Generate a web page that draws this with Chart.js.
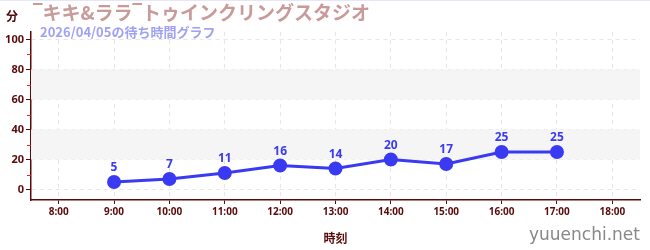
<!DOCTYPE html>
<html>
<head>
<meta charset="utf-8">
<script src="https://cdn.jsdelivr.net/npm/chart.js@4"></script>
<style>
    body { margin: 0; background: #fff; }
    #wrap { position: relative; width: 650px; height: 250px; font-family: "Noto Sans CJK JP", "Noto Sans", sans-serif; }
    #topline { position: absolute; left: 0; top: 0; width: 650px; height: 1px; background: #e6e6f8; }
    #title { position: absolute; left: 33px; top: 0px; font-size: 19px; line-height: 24px; font-weight: bold; color: #c99a9a; white-space: nowrap; font-family: "Noto Sans CJK JP", sans-serif; }
    #title .m { font-family: "Noto Sans", sans-serif; }
    #subtitle { position: absolute; left: 40px; top: 22px; font-size: 13px; font-weight: bold; color: #a0a0f5; white-space: nowrap; }
    #unit { position: absolute; left: 6px; top: 7px; font-size: 12px; font-weight: bold; color: #4a0a0a; }
    #site { position: absolute; right: 10px; bottom: 6px; font-size: 17px; color: #888; font-family: "DejaVu Sans", sans-serif; }
</style>
</head>
<body>
<div id="wrap">
    <canvas id="waitChart" width="650" height="250"></canvas>
    <div id="topline"></div>
    <div id="unit">分</div>
    <div id="title"><span class="m">¯</span>キキ&amp;ララ<span class="m">¯</span>トゥインクリングスタジオ</div>
    <div id="subtitle">2026/04/05の待ち時間グラフ</div>
    <div id="site">yuuenchi.net</div>
</div>
<script>
const hours = [9, 10, 11, 12, 13, 14, 15, 16, 17];
const waitMinutes = [5, 7, 11, 16, 14, 20, 17, 25, 25];
const hourTicks = [8, 9, 10, 11, 12, 13, 14, 15, 16, 17, 18];
const minuteTicks = [0, 20, 40, 60, 80, 100];
const minorTicks = [10, 30, 50, 70, 90];
const bands = [[20, 40], [60, 80]];

const axisColor = '#5a0a0a';
const lineColor = '#3a3af2';

// shaded bands + red minor ticks on y axis
const bandPlugin = {
    id: 'bands',
    beforeDatasetsDraw(chart) {
        const { ctx, chartArea, scales } = chart;
        ctx.save();
        ctx.fillStyle = '#f5f5f5';
        bands.forEach(([lo, hi]) => {
            const yTop = scales.y.getPixelForValue(hi);
            const yBot = scales.y.getPixelForValue(lo);
            ctx.fillRect(chartArea.left, yTop, chartArea.right - chartArea.left, yBot - yTop);
        });
        ctx.restore();
    },
    afterDraw(chart) {
        const { ctx, chartArea, scales } = chart;
        ctx.save();
        ctx.strokeStyle = '#dd2222';
        ctx.lineWidth = 1;
        minorTicks.forEach(v => {
            const y = Math.round(scales.y.getPixelForValue(v)) + 0.5;
            ctx.beginPath();
            ctx.moveTo(chartArea.left - 4, y);
            ctx.lineTo(chartArea.left, y);
            ctx.stroke();
        });
        ctx.restore();
    },
};

// value labels above points
const labelPlugin = {
    id: 'pointLabels',
    afterDatasetsDraw(chart) {
        const { ctx } = chart;
        const meta = chart.getDatasetMeta(0);
        ctx.save();
        ctx.fillStyle = lineColor;
        ctx.font = 'bold 12px "Noto Sans", sans-serif';
        ctx.textAlign = 'center';
        ctx.textBaseline = 'bottom';
        meta.data.forEach((pt, i) => {
            ctx.fillText(String(waitMinutes[i]), pt.x, pt.y - 8);
        });
        ctx.restore();
    },
};

const ctx = document.getElementById('waitChart').getContext('2d');
const chart = new Chart(ctx, {
    type: 'line',
    data: {
        datasets: [
            {
                data: hours.map((h, i) => ({ x: h, y: waitMinutes[i] })),
                borderColor: lineColor,
                backgroundColor: lineColor,
                borderWidth: 3,
                pointRadius: 5.5,
                pointHoverRadius: 5.5,
                tension: 0,
            },
        ],
    },
    options: {
        responsive: false,
        animation: false,
        events: [],
        layout: {
            padding: { top: 32, right: 10, left: 0, bottom: 0 },
        },
        scales: {
            x: {
                type: 'linear',
                min: 7.5,
                max: 18.5,
                afterBuildTicks: (axis) => { axis.ticks = hourTicks.map(v => ({ value: v })); },
                afterFit: (axis) => { axis.height = 50; },
                ticks: {
                    color: axisColor,
                    font: { size: 10, weight: 'bold', family: '"Noto Sans", sans-serif' },
                    padding: 2,
                    maxRotation: 0,
                    callback: (v) => v + ':00',
                },
                grid: {
                    color: '#e6e6e6',
                    tickColor: axisColor,
                    tickLength: 4,
                },
                border: { color: axisColor, width: 1.5, dash: [4, 4] },
                title: {
                    display: true,
                    text: '時刻',
                    color: axisColor,
                    font: { size: 12, weight: 'bold', family: '"Noto Sans CJK JP", sans-serif' },
                    padding: { top: 4 },
                },
            },
            y: {
                min: -7,
                max: 105,
                afterBuildTicks: (axis) => { axis.ticks = minuteTicks.map(v => ({ value: v })); },
                afterFit: (axis) => { axis.width = 31; },
                ticks: {
                    color: axisColor,
                    font: { size: 11, weight: 'bold', family: '"Noto Sans", sans-serif' },
                    padding: 2,
                },
                grid: {
                    color: '#e6e6e6',
                    tickColor: axisColor,
                    tickLength: 5,
                },
                border: { color: axisColor, width: 1.5, dash: [4, 4] },
            },
        },
        plugins: {
            legend: { display: false },
            tooltip: { enabled: false },
        },
    },
    plugins: [bandPlugin, labelPlugin],
});
</script>
</body>
</html>
